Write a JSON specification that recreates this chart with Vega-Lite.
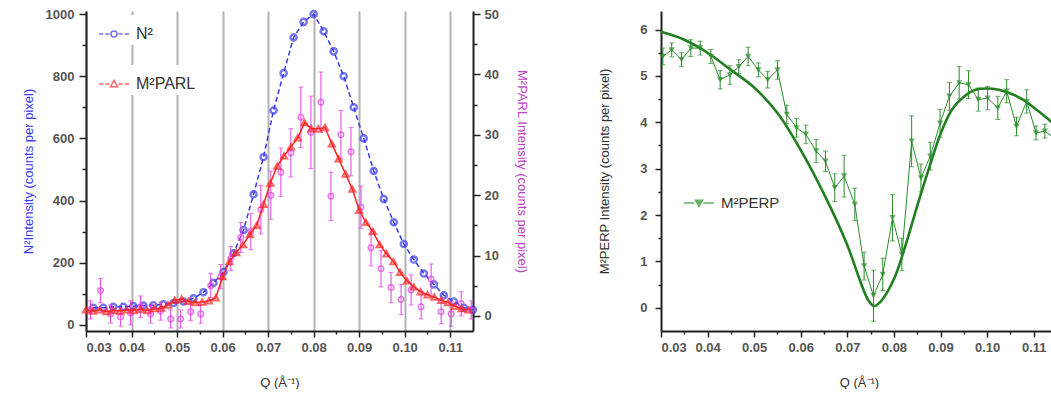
{
  "$schema": "https://vega.github.io/schema/vega-lite/v6.json",
  "padding": {"left": 22, "top": 6, "right": 0, "bottom": 0},
  "background": "white",
  "spacing": 70,
  "datasets": {
    "n2": [
      {"Q": 0.0316, "I": 55, "series": "N²"}, {"Q": 0.0338, "I": 55, "series": "N²"}, {"Q": 0.0360, "I": 58, "series": "N²"},
      {"Q": 0.0382, "I": 58, "series": "N²"}, {"Q": 0.0404, "I": 60, "series": "N²"}, {"Q": 0.0426, "I": 62, "series": "N²"},
      {"Q": 0.0448, "I": 63, "series": "N²"}, {"Q": 0.0470, "I": 66, "series": "N²"}, {"Q": 0.0492, "I": 70, "series": "N²"},
      {"Q": 0.0514, "I": 75, "series": "N²"}, {"Q": 0.0536, "I": 85, "series": "N²"}, {"Q": 0.0558, "I": 105, "series": "N²"},
      {"Q": 0.0580, "I": 135, "series": "N²"}, {"Q": 0.0602, "I": 170, "series": "N²"}, {"Q": 0.0624, "I": 230, "series": "N²"},
      {"Q": 0.0646, "I": 305, "series": "N²"}, {"Q": 0.0668, "I": 420, "series": "N²"}, {"Q": 0.0690, "I": 540, "series": "N²"},
      {"Q": 0.0712, "I": 690, "series": "N²"}, {"Q": 0.0734, "I": 810, "series": "N²"}, {"Q": 0.0756, "I": 925, "series": "N²"},
      {"Q": 0.0778, "I": 975, "series": "N²"}, {"Q": 0.0800, "I": 1000, "series": "N²"}, {"Q": 0.0822, "I": 945, "series": "N²"},
      {"Q": 0.0844, "I": 880, "series": "N²"}, {"Q": 0.0866, "I": 800, "series": "N²"}, {"Q": 0.0888, "I": 700, "series": "N²"},
      {"Q": 0.0910, "I": 600, "series": "N²"}, {"Q": 0.0932, "I": 495, "series": "N²"}, {"Q": 0.0954, "I": 405, "series": "N²"},
      {"Q": 0.0976, "I": 330, "series": "N²"}, {"Q": 0.0998, "I": 260, "series": "N²"}, {"Q": 0.1020, "I": 210, "series": "N²"},
      {"Q": 0.1042, "I": 165, "series": "N²"}, {"Q": 0.1064, "I": 130, "series": "N²"}, {"Q": 0.1086, "I": 95, "series": "N²"},
      {"Q": 0.1108, "I": 75, "series": "N²"}, {"Q": 0.1130, "I": 55, "series": "N²"}, {"Q": 0.1150, "I": 48, "series": "N²"}
    ],
    "parl": [
      {"Q": 0.0300, "I": 1.0, "series": "M²PARL"}, {"Q": 0.0315, "I": 0.8, "series": "M²PARL"}, {"Q": 0.0330, "I": 1.0, "series": "M²PARL"},
      {"Q": 0.0345, "I": 0.7, "series": "M²PARL"}, {"Q": 0.0360, "I": 0.9, "series": "M²PARL"}, {"Q": 0.0375, "I": 0.8, "series": "M²PARL"},
      {"Q": 0.0390, "I": 1.0, "series": "M²PARL"}, {"Q": 0.0405, "I": 0.9, "series": "M²PARL"}, {"Q": 0.0420, "I": 1.1, "series": "M²PARL"},
      {"Q": 0.0435, "I": 0.9, "series": "M²PARL"}, {"Q": 0.0450, "I": 1.2, "series": "M²PARL"}, {"Q": 0.0465, "I": 1.3, "series": "M²PARL"},
      {"Q": 0.0480, "I": 1.8, "series": "M²PARL"}, {"Q": 0.0495, "I": 2.6, "series": "M²PARL"}, {"Q": 0.0510, "I": 2.8, "series": "M²PARL"},
      {"Q": 0.0525, "I": 2.4, "series": "M²PARL"}, {"Q": 0.0540, "I": 2.2, "series": "M²PARL"}, {"Q": 0.0555, "I": 2.3, "series": "M²PARL"},
      {"Q": 0.0570, "I": 2.5, "series": "M²PARL"}, {"Q": 0.0585, "I": 3.0, "series": "M²PARL"}, {"Q": 0.0600, "I": 6.5, "series": "M²PARL"},
      {"Q": 0.0615, "I": 9.0, "series": "M²PARL"}, {"Q": 0.0630, "I": 10.5, "series": "M²PARL"}, {"Q": 0.0645, "I": 11.8, "series": "M²PARL"},
      {"Q": 0.0660, "I": 13.5, "series": "M²PARL"}, {"Q": 0.0675, "I": 15.0, "series": "M²PARL"}, {"Q": 0.0690, "I": 18.5, "series": "M²PARL"},
      {"Q": 0.0705, "I": 22.0, "series": "M²PARL"}, {"Q": 0.0720, "I": 24.8, "series": "M²PARL"}, {"Q": 0.0735, "I": 26.5, "series": "M²PARL"},
      {"Q": 0.0750, "I": 28.0, "series": "M²PARL"}, {"Q": 0.0765, "I": 29.5, "series": "M²PARL"}, {"Q": 0.0780, "I": 32.0, "series": "M²PARL"},
      {"Q": 0.0795, "I": 31.0, "series": "M²PARL"}, {"Q": 0.0810, "I": 31.0, "series": "M²PARL"}, {"Q": 0.0825, "I": 31.2, "series": "M²PARL"},
      {"Q": 0.0840, "I": 28.5, "series": "M²PARL"}, {"Q": 0.0855, "I": 26.0, "series": "M²PARL"}, {"Q": 0.0870, "I": 23.5, "series": "M²PARL"},
      {"Q": 0.0885, "I": 21.0, "series": "M²PARL"}, {"Q": 0.0900, "I": 17.5, "series": "M²PARL"}, {"Q": 0.0915, "I": 15.5, "series": "M²PARL"},
      {"Q": 0.0930, "I": 14.0, "series": "M²PARL"}, {"Q": 0.0945, "I": 11.8, "series": "M²PARL"}, {"Q": 0.0960, "I": 10.3, "series": "M²PARL"},
      {"Q": 0.0975, "I": 9.0, "series": "M²PARL"}, {"Q": 0.0990, "I": 7.2, "series": "M²PARL"}, {"Q": 0.1005, "I": 5.8, "series": "M²PARL"},
      {"Q": 0.1020, "I": 4.8, "series": "M²PARL"}, {"Q": 0.1035, "I": 4.0, "series": "M²PARL"}, {"Q": 0.1050, "I": 3.5, "series": "M²PARL"},
      {"Q": 0.1065, "I": 3.1, "series": "M²PARL"}, {"Q": 0.1080, "I": 2.6, "series": "M²PARL"}, {"Q": 0.1095, "I": 2.2, "series": "M²PARL"},
      {"Q": 0.1110, "I": 1.6, "series": "M²PARL"}, {"Q": 0.1125, "I": 1.2, "series": "M²PARL"}, {"Q": 0.1140, "I": 1.0, "series": "M²PARL"}
    ],
    "parl_m": [
      {"Q": 0.0310, "I": 1.0, "err": 1.5}, {"Q": 0.0332, "I": 4.2, "err": 2.0}, {"Q": 0.0354, "I": 0.3, "err": 1.5},
      {"Q": 0.0376, "I": -0.2, "err": 1.5}, {"Q": 0.0398, "I": 0.5, "err": 2.0}, {"Q": 0.0420, "I": 1.5, "err": 1.8},
      {"Q": 0.0442, "I": 0.3, "err": 1.5}, {"Q": 0.0464, "I": 0.8, "err": 1.5}, {"Q": 0.0486, "I": -0.5, "err": 1.5},
      {"Q": 0.0508, "I": -0.5, "err": 1.5}, {"Q": 0.0530, "I": 0.7, "err": 1.5}, {"Q": 0.0552, "I": 0.3, "err": 1.5},
      {"Q": 0.0574, "I": 5.0, "err": 2.0}, {"Q": 0.0596, "I": 6.5, "err": 2.0}, {"Q": 0.0618, "I": 9.5, "err": 2.0},
      {"Q": 0.0640, "I": 13.0, "err": 2.5}, {"Q": 0.0662, "I": 14.0, "err": 3.0}, {"Q": 0.0684, "I": 17.6, "err": 4.0},
      {"Q": 0.0706, "I": 20.0, "err": 4.0}, {"Q": 0.0728, "I": 23.8, "err": 4.0}, {"Q": 0.0750, "I": 27.0, "err": 4.0},
      {"Q": 0.0772, "I": 32.9, "err": 5.0}, {"Q": 0.0794, "I": 30.4, "err": 6.0}, {"Q": 0.0816, "I": 35.4, "err": 5.0},
      {"Q": 0.0838, "I": 19.8, "err": 4.0}, {"Q": 0.0860, "I": 30.0, "err": 4.0}, {"Q": 0.0882, "I": 27.2, "err": 4.0},
      {"Q": 0.0904, "I": 18.0, "err": 3.5}, {"Q": 0.0926, "I": 11.3, "err": 3.0}, {"Q": 0.0948, "I": 7.8, "err": 3.0},
      {"Q": 0.0970, "I": 4.7, "err": 2.5}, {"Q": 0.0992, "I": 2.7, "err": 2.5}, {"Q": 0.1014, "I": 4.3, "err": 2.5},
      {"Q": 0.1036, "I": 1.5, "err": 2.0}, {"Q": 0.1058, "I": 6.1, "err": 2.5}, {"Q": 0.1080, "I": 0.7, "err": 2.0},
      {"Q": 0.1102, "I": 0.3, "err": 2.0}, {"Q": 0.1124, "I": 2.0, "err": 2.0}, {"Q": 0.1146, "I": 1.0, "err": 1.5}
    ],
    "perp": [
      {"Q": 0.0304, "I": 5.42, "err": 0.18, "series": "M²PERP"}, {"Q": 0.0323, "I": 5.56, "err": 0.15, "series": "M²PERP"},
      {"Q": 0.0344, "I": 5.35, "err": 0.15, "series": "M²PERP"}, {"Q": 0.0364, "I": 5.60, "err": 0.18, "series": "M²PERP"},
      {"Q": 0.0384, "I": 5.60, "err": 0.15, "series": "M²PERP"}, {"Q": 0.0407, "I": 5.42, "err": 0.15, "series": "M²PERP"},
      {"Q": 0.0427, "I": 4.92, "err": 0.20, "series": "M²PERP"}, {"Q": 0.0448, "I": 5.02, "err": 0.20, "series": "M²PERP"},
      {"Q": 0.0467, "I": 5.20, "err": 0.15, "series": "M²PERP"}, {"Q": 0.0487, "I": 5.42, "err": 0.20, "series": "M²PERP"},
      {"Q": 0.0509, "I": 5.13, "err": 0.15, "series": "M²PERP"}, {"Q": 0.0529, "I": 4.92, "err": 0.18, "series": "M²PERP"},
      {"Q": 0.0550, "I": 5.13, "err": 0.20, "series": "M²PERP"}, {"Q": 0.0570, "I": 4.17, "err": 0.20, "series": "M²PERP"},
      {"Q": 0.0591, "I": 3.88, "err": 0.20, "series": "M²PERP"}, {"Q": 0.0611, "I": 3.74, "err": 0.20, "series": "M²PERP"},
      {"Q": 0.0633, "I": 3.38, "err": 0.25, "series": "M²PERP"}, {"Q": 0.0653, "I": 3.16, "err": 0.22, "series": "M²PERP"},
      {"Q": 0.0673, "I": 2.59, "err": 0.30, "series": "M²PERP"}, {"Q": 0.0693, "I": 2.84, "err": 0.45, "series": "M²PERP"},
      {"Q": 0.0716, "I": 2.23, "err": 0.35, "series": "M²PERP"}, {"Q": 0.0736, "I": 0.90, "err": 0.30, "series": "M²PERP"},
      {"Q": 0.0756, "I": 0.26, "err": 0.55, "series": "M²PERP"}, {"Q": 0.0776, "I": 0.72, "err": 0.35, "series": "M²PERP"},
      {"Q": 0.0797, "I": 1.94, "err": 0.50, "series": "M²PERP"}, {"Q": 0.0817, "I": 1.15, "err": 0.35, "series": "M²PERP"},
      {"Q": 0.0838, "I": 3.59, "err": 0.55, "series": "M²PERP"}, {"Q": 0.0858, "I": 2.80, "err": 0.30, "series": "M²PERP"},
      {"Q": 0.0878, "I": 3.27, "err": 0.30, "series": "M²PERP"}, {"Q": 0.0899, "I": 3.98, "err": 0.30, "series": "M²PERP"},
      {"Q": 0.0919, "I": 4.56, "err": 0.30, "series": "M²PERP"}, {"Q": 0.0940, "I": 4.85, "err": 0.35, "series": "M²PERP"},
      {"Q": 0.0960, "I": 4.81, "err": 0.30, "series": "M²PERP"}, {"Q": 0.0981, "I": 4.49, "err": 0.25, "series": "M²PERP"},
      {"Q": 0.1001, "I": 4.52, "err": 0.25, "series": "M²PERP"}, {"Q": 0.1023, "I": 4.31, "err": 0.25, "series": "M²PERP"},
      {"Q": 0.1042, "I": 4.67, "err": 0.25, "series": "M²PERP"}, {"Q": 0.1063, "I": 3.91, "err": 0.20, "series": "M²PERP"},
      {"Q": 0.1085, "I": 4.45, "err": 0.25, "series": "M²PERP"}, {"Q": 0.1105, "I": 3.77, "err": 0.15, "series": "M²PERP"},
      {"Q": 0.1124, "I": 3.81, "err": 0.15, "series": "M²PERP"}, {"Q": 0.1144, "I": 3.66, "err": 0.15, "series": "M²PERP"}
    ],
    "perpfit": [
      {"Q": 0.030, "I": 5.95}, {"Q": 0.035, "I": 5.78}, {"Q": 0.040, "I": 5.50}, {"Q": 0.045, "I": 5.13},
      {"Q": 0.050, "I": 4.75}, {"Q": 0.055, "I": 4.20}, {"Q": 0.060, "I": 3.40}, {"Q": 0.065, "I": 2.45},
      {"Q": 0.070, "I": 1.35}, {"Q": 0.0725, "I": 0.65}, {"Q": 0.0745, "I": 0.16}, {"Q": 0.0757, "I": 0.04},
      {"Q": 0.0772, "I": 0.14}, {"Q": 0.080, "I": 0.62}, {"Q": 0.0825, "I": 1.35}, {"Q": 0.085, "I": 2.20}, {"Q": 0.0875, "I": 3.00},
      {"Q": 0.090, "I": 3.75}, {"Q": 0.0925, "I": 4.28}, {"Q": 0.095, "I": 4.55}, {"Q": 0.0975, "I": 4.70},
      {"Q": 0.100, "I": 4.73}, {"Q": 0.1025, "I": 4.70}, {"Q": 0.105, "I": 4.62}, {"Q": 0.1075, "I": 4.50},
      {"Q": 0.110, "I": 4.32}, {"Q": 0.1125, "I": 4.12}, {"Q": 0.115, "I": 3.90}
    ]
  },
  "hconcat": [
    {
      "width": 387,
      "height": 320,
      "layer": [
        {
          "data": {"name": "n2"},
          "encoding": {
            "x": {"field": "Q", "type": "quantitative", "scale": {"domain": [0.03, 0.115], "nice": false, "zero": false},
                  "axis": {"orient": "bottom", "values": [0.03, 0.04, 0.05, 0.06, 0.07, 0.08, 0.09, 0.10, 0.11], "format": ".2f",
                           "tickSize": 6, "grid": true, "gridOpacity": 0.75, "title": "Q (Å⁻¹)"}},
            "y": {"field": "I", "type": "quantitative", "scale": {"domain": [-20, 1010], "nice": false, "zero": false},
                  "axis": {"orient": "left", "values": [0, 200, 400, 600, 800, 1000], "format": "d",
                           "tickSize": 7, "labelPadding": 5, "titlePadding": 10,
                           "title": "N²Intensity (counts per pixel)", "titleColor": "#3b3bf0"}},
            "color": {"field": "series", "type": "nominal", "scale": {"domain": ["N²"], "range": ["#3b3be6"]},
                      "legend": {"orient": "none", "legendX": 9, "legendY": 4, "title": null, "labelFontSize": 16, "labelColor": "#333",
                                 "labelFontWeight": "normal", "symbolSize": 900, "symbolStrokeWidth": 1.5, "labelOffset": 6, "fillColor": "white", "padding": 3,
                                 "symbolFillColor": "transparent",
                                 "symbolType": "M-1,0H-0.72M-0.58,0H-0.3M0.3,0H0.58M0.72,0H1M-0.2,0A0.2,0.2,0,1,1,0.2,0A0.2,0.2,0,1,1,-0.2,0Z"}}
          },
          "layer": [
            {"mark": {"type": "line", "strokeDash": [5, 3], "strokeWidth": 1.5}},
            {"mark": {"type": "point", "shape": "circle", "filled": false, "size": 38, "strokeWidth": 2.4}}
          ]
        },
        {
          "layer": [
            {
              "data": {"name": "parl_m"},
              "mark": {"type": "errorbar", "ticks": true, "color": "#e040e0"},
              "encoding": {
                "x": {"field": "Q", "type": "quantitative", "axis": null},
                "y": {"field": "I", "type": "quantitative", "scale": {"domain": [-2.5, 50.5], "nice": false, "zero": false},
                      "axis": {"orient": "right", "values": [0, 10, 20, 30, 40, 50], "format": "d",
                               "tickSize": 7, "labelPadding": 4, "titlePadding": 16,
                               "title": "M²PARL Intensity (counts per pixel)", "titleColor": "#c040c8"}},
                "yError": {"field": "err"}
              }
            },
            {
              "data": {"name": "parl_m"},
              "mark": {"type": "point", "filled": false, "color": "#e040e0", "size": 30, "strokeWidth": 1.5},
              "encoding": {
                "x": {"field": "Q", "type": "quantitative", "axis": null},
                "y": {"field": "I", "type": "quantitative", "title": "M²PARL Intensity (counts per pixel)"}
              }
            },
            {
              "data": {"name": "parl"},
              "encoding": {
                "x": {"field": "Q", "type": "quantitative", "axis": null},
                "y": {"field": "I", "type": "quantitative", "title": "M²PARL Intensity (counts per pixel)"},
                "stroke": {"field": "series", "type": "nominal", "scale": {"domain": ["M²PARL"], "range": ["#ff2424"]},
                           "legend": {"orient": "none", "legendX": 9, "legendY": 54, "title": null, "labelFontSize": 16, "labelColor": "#333",
                                      "labelFontWeight": "normal", "symbolSize": 900, "symbolStrokeWidth": 1.5, "labelOffset": 6, "fillColor": "white", "padding": 3,
                                      "symbolFillColor": "transparent",
                                      "symbolType": "M-1,0H-0.72M-0.58,0H-0.3M0.3,0H0.58M0.72,0H1M0,-0.24L0.24,0.18L-0.24,0.18Z"}}
              },
              "layer": [
                {"mark": {"type": "line", "strokeWidth": 1.5}},
                {"mark": {"type": "point", "shape": "triangle-up", "filled": false, "size": 38, "strokeWidth": 2}}
              ]
            }
          ]
        },
        {
          "data": {"name": "n2"},
          "mark": {"type": "point", "opacity": 0},
          "encoding": {
            "x": {"field": "Q", "type": "quantitative",
                  "axis": {"orient": "bottom", "values": [0.035, 0.045, 0.055, 0.065, 0.075, 0.085, 0.095, 0.105], "labels": false, "domain": false, "grid": false, "tickSize": 3, "title": null}},
            "y": {"field": "I", "type": "quantitative", "scale": {"domain": [-20, 1010], "nice": false, "zero": false},
                  "axis": {"orient": "left", "values": [100, 300, 500, 700, 900], "labels": false, "domain": false, "tickSize": 4, "title": null}}
          }
        },
        {
          "data": {"name": "parl"},
          "mark": {"type": "point", "opacity": 0},
          "encoding": {
            "x": {"field": "Q", "type": "quantitative", "axis": null},
            "y": {"field": "I", "type": "quantitative", "scale": {"domain": [-2.5, 50.5], "nice": false, "zero": false},
                  "axis": {"orient": "right", "values": [5, 15, 25, 35, 45], "labels": false, "domain": false, "tickSize": 4, "title": null}}
          }
        }
      ],
      "resolve": {"scale": {"y": "independent"}, "axis": {"x": "independent", "y": "independent"}}
    },
    {
      "width": 396,
      "height": 320,
      "encoding": {
        "x": {"field": "Q", "type": "quantitative", "scale": {"domain": [0.03, 0.115], "nice": false, "zero": false}, "axis": null},
        "y": {"field": "I", "type": "quantitative", "scale": {"domain": [-0.5, 6.4], "nice": false, "zero": false}, "axis": null}
      },
      "layer": [
        {"data": {"name": "perpfit"}, "mark": {"type": "line", "color": "#217f21", "strokeWidth": 2.6, "interpolate": "catmull-rom"},
         "encoding": {
           "x": {"field": "Q", "type": "quantitative",
                 "axis": {"orient": "bottom", "values": [0.03, 0.04, 0.05, 0.06, 0.07, 0.08, 0.09, 0.10, 0.11], "format": ".2f", "tickSize": 6, "grid": false, "title": "Q (Å⁻¹)"}},
           "y": {"field": "I", "type": "quantitative",
                 "axis": {"orient": "left", "values": [0, 1, 2, 3, 4, 5, 6], "format": "d", "tickSize": 6, "labelPadding": 8, "titlePadding": 28, "grid": false,
                          "title": "M²PERP Intensity (counts per pixel)"}}
         }},
        {"data": {"name": "perpfit"}, "mark": {"type": "point", "opacity": 0},
         "encoding": {
           "x": {"field": "Q", "type": "quantitative",
                 "axis": {"orient": "bottom", "values": [0.035, 0.045, 0.055, 0.065, 0.075, 0.085, 0.095, 0.105], "labels": false, "domain": false, "tickSize": 3, "title": null}},
           "y": {"field": "I", "type": "quantitative",
                 "axis": {"orient": "left", "values": [0.5, 1.5, 2.5, 3.5, 4.5, 5.5], "labels": false, "domain": false, "tickSize": 3, "title": null}}
         }},
        {"data": {"name": "perp"}, "mark": {"type": "errorbar", "ticks": true, "color": "#2a8a2a"},
         "encoding": {"yError": {"field": "err"}}},
        {"data": {"name": "perp"},
         "encoding": {
           "color": {"field": "series", "type": "nominal", "scale": {"domain": ["M²PERP"], "range": ["#2a8f2a"]},
                     "legend": {"orient": "none", "legendX": 22, "legendY": 176, "title": null, "labelFontSize": 15, "labelColor": "#333",
                                "labelFontWeight": "normal", "symbolSize": 900, "symbolStrokeWidth": 1.5, "labelOffset": 6,
                                "symbolType": "M-1,0H-0.3M0.3,0H1M-0.24,-0.18L0.24,-0.18L0,0.24Z"}}
         },
         "layer": [
           {"mark": {"type": "line", "strokeWidth": 1}},
           {"mark": {"type": "point", "shape": "triangle-down", "filled": true, "size": 40}}
         ]
        }
      ],
      "resolve": {"axis": {"x": "independent", "y": "independent"}}
    }
  ],
  "resolve": {"scale": {"color": "independent"}},
  "config": {
    "view": {"stroke": null},
    "font": "Liberation Sans",
    "axis": {
      "labelFont": "Liberation Sans", "labelFontSize": 13, "labelColor": "#555", "labelFontWeight": "bold",
      "titleFont": "Liberation Sans", "titleFontSize": 13, "titleFontWeight": "normal", "titleColor": "#333",
      "domainColor": "#222", "domainWidth": 2, "tickColor": "#222", "tickWidth": 1.5,
      "gridColor": "#999", "gridWidth": 2
    },
    "axisX": {"titlePadding": 22, "labelPadding": 4},
    "axisY": {"grid": false}
  }
}
